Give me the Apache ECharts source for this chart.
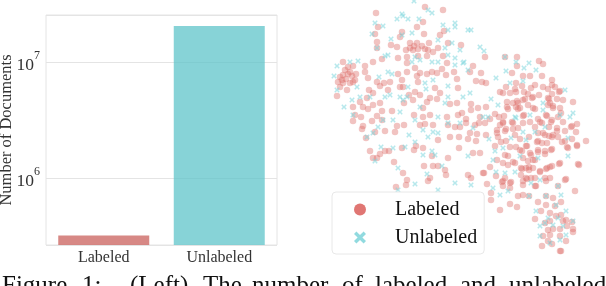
<!DOCTYPE html>
<html><head><meta charset="utf-8">
<style>html,body{margin:0;padding:0;background:#fff;overflow:hidden}#c{width:606px;height:286px}</style>
<script src="https://cdn.jsdelivr.net/npm/echarts@6/dist/echarts.min.js"></script>
</head><body><div id="c"></div>
<script>
const categories = ['Labeled','Unlabeled'];
const documentCounts = [320000, 20400000];
const barColors = ['#c9605c','#5fc4ca'];
const yAxisTitle = 'Number of Documents';
const captionWords = ['Figure','1:','(Left)','The','number','of','labeled','and','unlabeled'];
const labeledPoints = [[376,13],[378,27],[425,7],[443,10],[423,22],[417,27],[377,42],[375,34],[377,48],[391,45],[397,47],[402,32],[400,37],[410,43],[417,43],[413,50],[418,49],[406,50],[424,34],[429,43],[425,49],[433,52],[438,48],[440,35],[444,31],[448,43],[461,45],[443,56],[427,56],[418,56],[407,57],[398,58],[382,59],[373,62],[365,66],[343,62],[348,67],[353,66],[343,75],[348,74],[340,77],[353,82],[356,74],[350,83],[343,83],[340,87],[347,90],[337,96],[365,72],[368,78],[377,82],[384,83],[390,82],[380,86],[369,90],[373,93],[388,90],[367,98],[373,105],[353,107],[360,102],[355,115],[361,117],[353,121],[363,107],[368,109],[380,103],[382,111],[377,116],[392,111],[382,120],[372,121],[363,126],[362,129],[366,138],[385,131],[375,132],[395,132],[397,126],[404,125],[414,115],[420,125],[425,124],[433,125],[438,140],[450,137],[459,137],[447,117],[448,125],[455,127],[460,127],[458,115],[462,113],[457,103],[450,104],[430,98],[437,99],[427,102],[423,108],[430,115],[423,117],[435,88],[440,93],[415,92],[420,95],[413,100],[404,103],[400,87],[403,87],[402,80],[398,74],[407,72],[407,63],[415,68],[420,73],[417,76],[427,74],[432,72],[437,73],[442,69],[446,75],[447,63],[457,79],[458,88],[454,72],[418,82],[409,95],
[485,57],[473,66],[470,72],[481,73],[476,81],[482,82],[486,83],[505,57],[517,57],[517,66],[543,64],[539,61],[512,73],[523,76],[530,76],[542,76],[552,80],[552,85],[516,83],[522,86],[535,85],[531,88],[543,87],[548,89],[555,87],[559,92],[515,89],[510,93],[506,87],[500,92],[503,93],[524,92],[528,94],[539,95],[532,98],[525,99],[549,99],[557,99],[563,100],[573,102],[518,103],[513,103],[508,109],[516,107],[520,108],[535,109],[528,105],[550,103],[560,108],[553,108],[471,104],[486,107],[478,108],[480,117],[495,114],[504,116],[499,117],[523,116],[466,119],[471,110],[490,119],[546,115],[538,119],[530,122],[542,123],[551,122],[558,117],[561,113],[563,122],[513,123],[523,123],[503,123],[500,125],[485,123],[479,123],[475,125],[466,123],[497,130],[506,129],[513,129],[518,128],[535,127],[549,127],[557,131],[565,131],[571,127],[577,124],[576,132],[470,133],[477,134],[486,135],[498,137],[497,133],[520,139],[529,137],[538,133],[545,135],[549,136],[552,137],[565,141],[538,141],[476,141],[468,139],[506,141],[586,141],[558,137],
[370,151],[373,158],[380,154],[377,158],[385,151],[389,151],[394,162],[403,173],[407,180],[406,185],[396,187],[428,181],[414,150],[416,146],[423,148],[402,148],[433,166],[438,166],[448,158],[446,175],[445,170],[430,178],[459,148],[432,156],[424,166],
[473,153],[480,153],[471,178],[468,175],[484,173],[487,184],[491,200],[491,193],[500,210],[510,204],[517,207],[518,196],[523,195],[529,196],[503,186],[505,178],[503,181],[511,182],[510,188],[496,176],[490,167],[483,173],[536,186],[546,181],[550,178],[566,179],[558,186],[575,191],[579,165],[560,163],[550,167],[546,169],[531,178],[526,178],[523,181],[521,168],[526,168],[533,168],[528,161],[531,155],[508,156],[503,163],[515,163],[520,150],[526,146],[538,150],[545,151],[551,150],[568,148],[577,146],[510,147],[495,146],[535,160],[540,171],[521,175],
[546,196],[553,198],[538,202],[546,205],[555,206],[561,202],[541,211],[535,219],[550,213],[556,216],[561,215],[566,220],[572,222],[545,223],[550,221],[563,221],[567,226],[573,229],[573,232],[548,230],[553,229],[560,229],[543,236],[550,235],[560,236],[548,241],[566,241],[542,246],[552,244],[560,251],[561,251],
[516,92],[533,97],[552,94],[560,91],[548,98],[507,102],[517,101],[523,100],[533,108],[518,109],[507,107],[548,105],[553,106],[503,122],[505,131],[512,122],[524,115],[540,122],[547,116],[552,120],[557,128],[572,126],[501,142],[515,135],[527,146],[543,133],[553,135],[562,142],[572,139],[577,145],[567,147],[537,142],[542,143],[547,143],[552,149],[516,147],[522,151],[530,153],[538,152],[545,154],[505,155],[513,162],[523,158],[533,160],[508,165],[522,169],[529,167],[540,172],[547,168],[552,166],[559,164],[578,164],[497,160],[527,179],[535,178],[545,178],[565,180],[510,183],[502,182],[523,185],[535,186],[529,170],
[345,70],[352,76],[338,82],[346,79],[350,72],[342,80],[355,80],[410,48],[422,46],[414,46],[428,50]];
const unlabeledPoints = [[414,1],[402,14],[397,19],[403,16],[408,19],[419,19],[375,23],[383,26],[372,34],[377,48],[391,39],[402,35],[412,33],[432,13],[428,10],[443,25],[455,23],[455,27],[448,30],[452,43],[445,48],[438,40],[460,50],[448,55],[455,58],[455,65],[463,63],[432,62],[438,62],[420,60],[412,62],[415,57],[388,55],[385,56],[358,61],[350,62],[337,66],[334,76],[337,90],[357,87],[344,107],[352,100],[360,97],[370,97],[353,115],[379,77],[388,72],[392,74],[408,87],[425,83],[426,89],[433,80],[448,86],[448,97],[400,97],[403,100],[407,97],[400,112],[393,120],[378,127],[383,120],[373,133],[367,137],[409,135],[428,137],[433,132],[438,133],[415,142],[423,130],[415,120],[448,123],[460,123],[438,117],[385,97],[390,95],[445,103],[420,107],
[468,30],[471,30],[480,47],[484,51],[505,57],[516,62],[529,63],[524,68],[506,71],[536,70],[464,62],[468,70],[470,93],[491,99],[498,105],[496,78],[510,83],[523,81],[565,90],[543,103],[543,110],[515,117],[516,118],[530,115],[570,117],[573,113],[560,115],[545,127],[523,132],[535,132],[568,138],[489,139],[483,117],[473,128],[488,117],[511,138],[526,140],[463,97],
[381,147],[375,161],[398,168],[393,148],[415,184],[455,183],[398,190],[438,190],[423,155],[432,151],[435,155],[442,166],[427,174],[405,147],
[468,156],[495,151],[503,148],[493,160],[568,156],[496,172],[505,173],[515,172],[540,180],[531,183],[493,188],[500,195],[508,191],[471,185],[558,186],[561,195],[546,196],[529,196],[556,205],[536,211],[566,211],[548,218],[553,225],[545,223],[540,226],[540,236],[560,240],[566,235],[573,221],[550,243],[563,226],[558,218],[520,156],[538,158]];

const serif = '"Liberation Serif","Times New Roman",serif';
const xIcon = 'path://M2 0 L5 3 L8 0 L10 2 L7 5 L10 8 L8 10 L5 7 L2 10 L0 8 L3 5 L0 2Z';
const captionX = [2,82,130,203,252,342,375,460,509];
const chart = echarts.init(document.getElementById('c'), null, {renderer:'canvas'});
chart.setOption({
  animation:false,
  backgroundColor:'#fff',
  textStyle:{fontFamily:serif},
  grid:[
    {left:46,top:15,width:231,height:230,show:true,borderColor:'#e4e4e4',borderWidth:1,backgroundColor:'transparent',outerBoundsMode:'none'},
    {left:320,top:0,width:286,height:286,show:false,outerBoundsMode:'none'}
  ],
  xAxis:[
    {type:'category',gridIndex:0,data:categories,axisLine:{show:false},axisTick:{show:false},
     axisLabel:{color:'#333',fontSize:16,fontFamily:serif,margin:5}},
    {type:'value',gridIndex:1,min:320,max:606,show:false}
  ],
  yAxis:[
    {type:'log',gridIndex:0,logBase:10,min:265000,max:25400000,
     name:yAxisTitle,nameLocation:'middle',nameGap:31,nameMoveOverlap:false,nameTextStyle:{color:'#333',fontSize:16.5,fontFamily:serif},
     axisLine:{show:false},axisTick:{show:false},
     splitLine:{show:true,lineStyle:{color:'#e4e4e4',width:1}},
     axisLabel:{color:'#333',margin:6,
       formatter:v=>{const e=Math.log10(v);return Math.abs(e-Math.round(e))<1e-6?'{b|10}{s|'+Math.round(e)+'}':'';},
       rich:{b:{fontSize:17.5,fontFamily:serif,color:'#333',padding:[6,0,0,0]},s:{fontSize:12,fontFamily:serif,color:'#333',verticalAlign:'top',padding:[0,0,8,0]}}}},
    {type:'value',gridIndex:1,min:0,max:286,inverse:true,show:false}
  ],
  legend:{
    show:true,data:[
      {name:'Labeled',itemStyle:{opacity:0.95,color:'#de6f6c'}},
      {name:'Unlabeled',itemStyle:{opacity:0.9,color:'#85d6db'}}],
    orient:'vertical',left:332,top:192,width:153,padding:[6,7,5,22],itemWidth:12,itemHeight:12,itemGap:5,
    borderColor:'#e8e8e8',borderWidth:1,borderRadius:4,backgroundColor:'#fff',
    textStyle:{fontSize:20,fontFamily:serif,color:'#111',padding:[0,0,0,24],height:23,lineHeight:23},
    z:10
  },
  series:[
    {type:'bar',xAxisIndex:0,yAxisIndex:0,barWidth:91,silent:true,
     data:documentCounts.map((v,i)=>({value:v,itemStyle:{color:barColors[i],opacity:0.75}}))},
    {name:'Labeled',type:'scatter',xAxisIndex:1,yAxisIndex:1,data:labeledPoints,symbol:'circle',symbolSize:6.5,
     itemStyle:{color:'#de6f6c',opacity:0.42}},
    {name:'Unlabeled',type:'scatter',xAxisIndex:1,yAxisIndex:1,data:unlabeledPoints,symbol:xIcon,symbolSize:5.5,
     itemStyle:{color:'#7bd6dc',opacity:0.55}}
  ],
  graphic:captionWords.map((w,i)=>({type:'text',x:captionX[i],y:274,silent:true,z:20,
     style:{text:w,font:'25px '+serif,fill:'#111'}}))
});
</script></body></html>
